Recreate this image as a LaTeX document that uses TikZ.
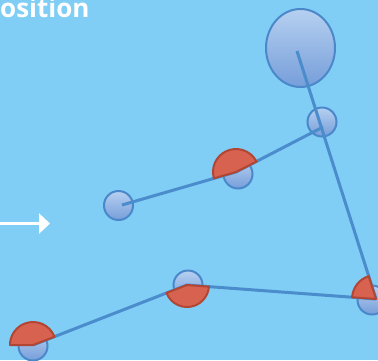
\documentclass[tikz,border=0pt]{standalone}
\usepackage{fontspec}
\setmainfont{Open Sans}
\usetikzlibrary{shapes.geometric,arrows.meta}
\definecolor{bgc}{RGB}{128,206,245}
\definecolor{jstroke}{RGB}{74,136,202}
\definecolor{jtop}{RGB}{182,208,240}
\definecolor{jbot}{RGB}{118,158,218}
\definecolor{linkc}{RGB}{74,140,204}
\definecolor{wfill}{RGB}{216,98,80}
\definecolor{wstroke}{RGB}{178,70,52}
\tikzset{
  joint/.style={circle, draw=jstroke, line width=2pt, top color=jtop, bottom color=jbot, minimum size=29pt, inner sep=0pt},
  bigjoint/.style={ellipse, draw=jstroke, line width=2pt, top color=jtop, bottom color=jbot, minimum width=69pt, minimum height=78pt, inner sep=0pt},
  link/.style={draw=linkc, line width=3pt},
  wedge/.style={draw=wstroke, fill=wfill, line width=2pt, line join=round},
  label/.style={text=white, font=\bfseries\fontsize{26}{30}\selectfont, inner sep=0pt, anchor=base west},
}
\begin{document}
\begin{tikzpicture}[x=1pt,y=-1pt]
\fill[bgc] (0,0) rectangle (378,360);
\useasboundingbox (0,0) rectangle (378,360);
\node[label] (title) at (0,17) {osition};
% arrow
\coordinate (a0) at (0,223.5);
\coordinate (a1) at (50,223.5);
\draw[white, line width=3pt, -{Triangle[length=11pt,width=20pt]}] (a0) -- (a1);
% joint circles
\node[bigjoint] (E) at (300.5,48) {};
\node[joint] (S) at (322,122) {};
\node[joint] (C3) at (238,174) {};
\node[joint] (C4) at (118.5,205.5) {};
\node[joint] (C1) at (188,285) {};
\node[joint] (C2) at (372,300) {};
\node[joint] (C0) at (33,346) {};
% joint pivots
\coordinate (E0) at (297,51);
\coordinate (S0) at (323,127);
\coordinate (J3) at (236,172);
\coordinate (J4) at (122,205);
\coordinate (J0) at (33,345);
\coordinate (J1) at (187,285);
\coordinate (J2) at (376,299);
% links
\draw[link] (E0) -- (J2);
\draw[link] (J0) -- (J1) -- (J2);
\draw[link] (J4) -- (J3) -- (S0);
% angle wedges
\draw[wedge] (J3) -- ++(-27:23) arc[start angle=-27, end angle=-196, radius=23] -- cycle;
\draw[wedge] (J0) -- ++(-21:23) arc[start angle=-21, end angle=-180, radius=23] -- cycle;
\draw[wedge] (J1) -- ++(-201:22) arc[start angle=-201, end angle=-355.7, radius=22] -- cycle;
\draw[wedge] (J2) -- ++(-107.7:24) arc[start angle=-107.7, end angle=-175.8, radius=24] -- cycle;
\end{tikzpicture}
\end{document}
